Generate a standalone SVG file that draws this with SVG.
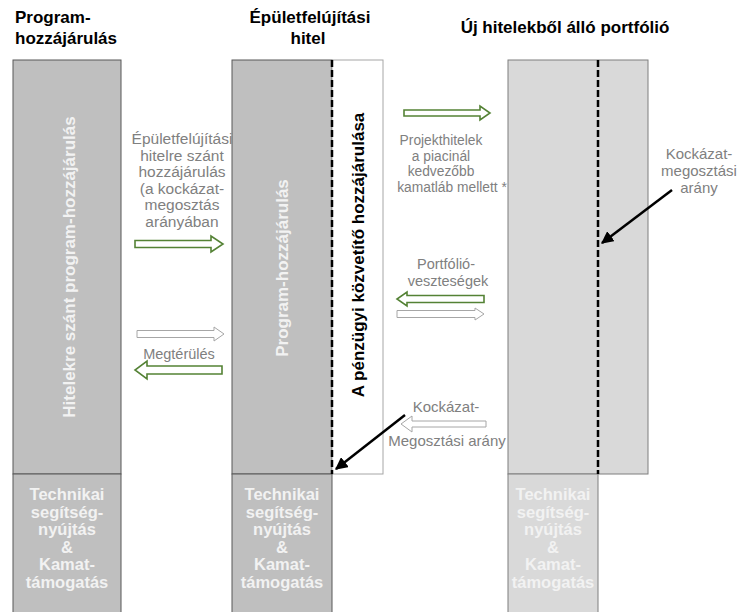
<svg xmlns="http://www.w3.org/2000/svg" width="739" height="612" viewBox="0 0 739 612">
  <style>
    .title { font-family: "Liberation Sans", Arial, sans-serif; font-weight: bold; font-size: 17px; fill: #000; }
    .col { fill: #bfbfbf; stroke: #595959; stroke-width: 1; }
    .col-light { fill: #d9d9d9; stroke: #7f7f7f; stroke-width: 1; }
    .col-white { fill: #fff; stroke: #a6a6a6; stroke-width: 1; }
    .vlabel { font-family: "Liberation Sans", Arial, sans-serif; font-weight: bold; font-size: 17px; fill: #f2f2f2; }
    .vlabel-dark { font-family: "Liberation Sans", Arial, sans-serif; font-weight: bold; font-size: 17px; fill: #000; }
    .box-text { font-family: "Liberation Sans", Arial, sans-serif; font-weight: bold; font-size: 16.5px; fill: #f2f2f2; text-anchor: middle; }
    .note { font-family: "Liberation Sans", Arial, sans-serif; font-size: 15px; fill: #808080; text-anchor: middle; }
    .note-l { font-size: 15.5px; }
    .note-s { font-size: 13.8px; }
    .arrow-green { fill: #fff; stroke: #548235; stroke-width: 1.6; }
    .arrow-gray { fill: #fff; stroke: #a6a6a6; stroke-width: 1; }
    .dash { stroke: #000; stroke-width: 2.5; stroke-dasharray: 7 3; fill: none; }
    .pointer { stroke: #000; stroke-width: 2.5; fill: none; marker-end: url(#head); }
  </style>
  <defs>
    <marker id="head" viewBox="0 0 10 10" refX="9" refY="5" markerWidth="5" markerHeight="5" orient="auto" markerUnits="strokeWidth">
      <path d="M0,0 L10,5 L0,10 Z" fill="#000"/>
    </marker>
  </defs>

  <rect width="739" height="612" fill="#fff"/>

  <!-- column headings -->
  <g id="titles">
    <text class="title" x="15" y="23">Program-</text>
    <text class="title" x="15" y="44">hozzájárulás</text>
    <text class="title" x="310" y="23" text-anchor="middle">Épületfelújítási</text>
    <text class="title" x="308" y="44" text-anchor="middle">hitel</text>
    <text class="title" x="565" y="33" text-anchor="middle">Új hitelekből álló portfólió</text>
  </g>

  <!-- program contribution column -->
  <g id="program-column">
    <rect class="col" x="13" y="60" width="108" height="414"/>
    <text class="vlabel" transform="translate(75,267) rotate(-90)" text-anchor="middle">Hitelekre szánt program-hozzájárulás</text>
  </g>
  <g id="program-ta">
    <rect class="col" x="13" y="474" width="108" height="140"/>
    <text class="box-text" x="67" y="500">Technikai</text>
    <text class="box-text" x="67" y="517.6">segítség-</text>
    <text class="box-text" x="67" y="535.2">nyújtás</text>
    <text class="box-text" x="67" y="552.8">&amp;</text>
    <text class="box-text" x="67" y="570.4">Kamat-</text>
    <text class="box-text" x="67" y="588">támogatás</text>
  </g>

  <!-- renovation loan column -->
  <g id="loan-program-part">
    <rect class="col" x="232" y="60" width="100" height="414"/>
    <text class="vlabel" transform="translate(288,268) rotate(-90)" text-anchor="middle">Program-hozzájárulás</text>
  </g>
  <g id="loan-intermediary-part">
    <rect class="col-white" x="332" y="60" width="51" height="414"/>
    <text class="vlabel-dark" transform="translate(364,255) rotate(-90)" text-anchor="middle">A pénzügyi közvetítő hozzájárulása</text>
  </g>
  <g id="loan-ta">
    <rect class="col" x="232" y="474" width="100" height="140"/>
    <text class="box-text" x="282" y="500">Technikai</text>
    <text class="box-text" x="282" y="517.6">segítség-</text>
    <text class="box-text" x="282" y="535.2">nyújtás</text>
    <text class="box-text" x="282" y="552.8">&amp;</text>
    <text class="box-text" x="282" y="570.4">Kamat-</text>
    <text class="box-text" x="282" y="588">támogatás</text>
  </g>

  <!-- new loan portfolio column -->
  <g id="portfolio">
    <rect class="col-light" x="508" y="60" width="140" height="414"/>
  </g>
  <g id="portfolio-ta">
    <rect class="col-light" x="508" y="474" width="90" height="140"/>
    <text class="box-text" x="553" y="500">Technikai</text>
    <text class="box-text" x="553" y="517.6">segítség-</text>
    <text class="box-text" x="553" y="535.2">nyújtás</text>
    <text class="box-text" x="553" y="552.8">&amp;</text>
    <text class="box-text" x="553" y="570.4">Kamat-</text>
    <text class="box-text" x="553" y="588">támogatás</text>
  </g>

  <!-- risk-sharing split lines -->
  <g id="split-lines">
    <line class="dash" x1="332" y1="60" x2="332" y2="474"/>
    <line class="dash" x1="598" y1="60" x2="598" y2="474"/>
  </g>

  <!-- flow labels -->
  <g id="labels">
    <text class="note note-l" x="182" y="144">Épületfelújítási</text>
    <text class="note note-l" x="182" y="160.5">hitelre szánt</text>
    <text class="note note-l" x="182" y="177">hozzájárulás</text>
    <text class="note note-l" x="182" y="193.5">(a kockázat-</text>
    <text class="note note-l" x="182" y="210">megosztás</text>
    <text class="note note-l" x="182" y="226.5">arányában</text>
    <text class="note" style="font-size:14.5px" x="179" y="359">Megtérülés</text>

    <text class="note note-s" x="441" y="145">Projekthitelek</text>
    <text class="note note-s" x="441" y="160.6">a piacinál</text>
    <text class="note note-s" x="441" y="176.2">kedvezőbb</text>
    <text class="note note-s" x="452" y="191.8">kamatláb mellett *</text>

    <text class="note" style="font-size:14.5px" x="446" y="269">Portfólió-</text>
    <text class="note" style="font-size:14.5px" x="448" y="285.5">veszteségek</text>

    <text class="note" x="446" y="412">Kockázat-</text>
    <text class="note" x="447" y="446">Megosztási arány</text>

    <text class="note" x="699" y="159">Kockázat-</text>
    <text class="note" x="699" y="176">megosztási</text>
    <text class="note" x="699" y="193">arány</text>
  </g>

  <!-- flows and pointers -->
  <g id="connectors">
    <polygon class="arrow-green" points="135,240.5 211,240.5 211,236 223,244 211,252 211,247.5 135,247.5"/>
    <polygon class="arrow-gray" points="137,330.5 214,330.5 214,327 224,334 214,341 214,337.5 137,337.5"/>
    <polygon class="arrow-green" points="222,366 147,366 147,361 135,370 147,379 147,374 222,374"/>
    <polygon class="arrow-green" points="404,110 480,110 480,106 490,113 480,120 480,116 404,116"/>
    <polygon class="arrow-green" points="484,295.5 407,295.5 407,292 397,299 407,306 407,302.5 484,302.5"/>
    <polygon class="arrow-gray" points="397,310.5 475,310.5 475,308 484,314 475,320 475,317.5 397,317.5"/>
    <polygon class="arrow-gray" points="486,421 412,421 412,416 401,424 412,432 412,427 486,427"/>

    <line class="pointer" x1="405" y1="415" x2="336" y2="469"/>
    <line class="pointer" x1="672" y1="190" x2="602" y2="243"/>
  </g>
</svg>
